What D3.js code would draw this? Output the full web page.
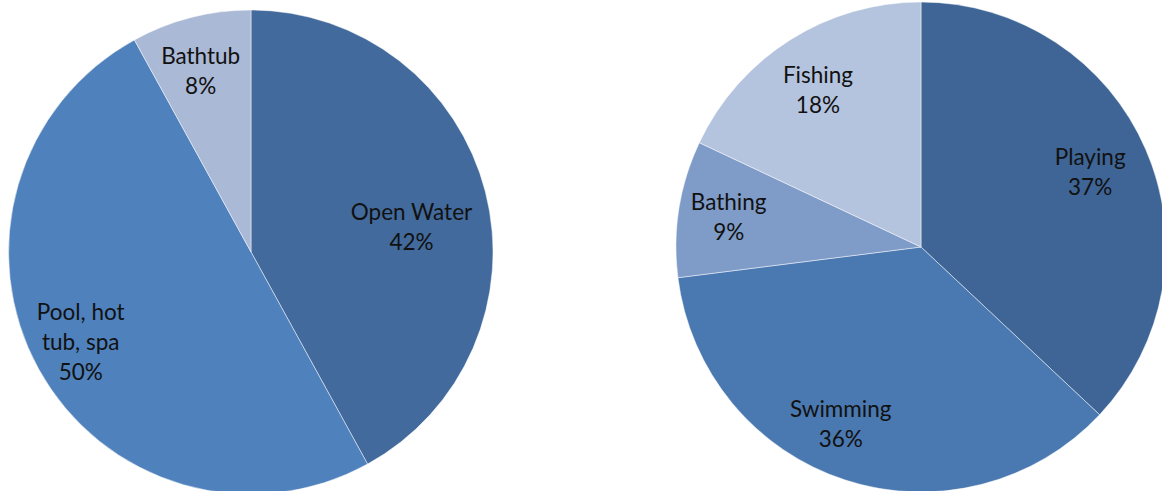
<!DOCTYPE html>
<html>
<head>
<meta charset="utf-8">
<script src="https://cdn.jsdelivr.net/npm/d3@7"></script>
<style>
  html, body { margin: 0; padding: 0; background: #fff; }
  svg { display: block; }
  text { font-family: Lato, "Open Sans", sans-serif; font-size: 22.5px; fill: #111; }
</style>
</head>
<body>
<svg id="chart" width="1162" height="491"></svg>
<script>
// Where drownings happen (left) and what people were doing (right), in percent
const placeLabels = [["Open Water"], ["Pool, hot", "tub, spa"], ["Bathtub"]];
const placeValues = [42, 50, 8];
const placeColors = ["#426a9c", "#4f81bc", "#aab9d6"];

const activityLabels = [["Playing"], ["Swimming"], ["Bathing"], ["Fishing"]];
const activityValues = [37, 36, 9, 18];
const activityColors = ["#3e6595", "#4a78b0", "#7f9bc8", "#b4c3de"];

const svg = d3.select("#chart");

function drawPie(cx, cy, radius, labels, values, colors, labelNudge) {
  const data = values.map((v, i) => ({ label: labels[i], value: v, color: colors[i], i }));
  const pie = d3.pie().value(d => d.value).sort(null);
  const arc = d3.arc().innerRadius(0).outerRadius(radius);
  const labelArc = d3.arc().innerRadius(radius * 0.77).outerRadius(radius * 0.77);

  const g = svg.append("g").attr("transform", `translate(${cx},${cy})`);
  const arcs = pie(data);

  g.selectAll("path").data(arcs).join("path")
    .attr("d", arc)
    .attr("fill", d => d.data.color)
    .attr("stroke", "#ffffff")
    .attr("stroke-opacity", 0.6)
    .attr("stroke-width", 0.8);

  const lineH = 30;
  const lbl = g.selectAll("text.lbl").data(arcs).join("text")
    .attr("class", "lbl")
    .attr("text-anchor", "middle")
    .attr("transform", d => {
      const [x, y] = labelArc.centroid(d);
      const n = labelNudge[d.data.i] || [0, 0];
      return `translate(${x + n[0]},${y + n[1]})`;
    });

  lbl.each(function(d) {
    const lines = d.data.label.concat([d.data.value + "%"]);
    const top = -(lines.length - 1) * lineH / 2;
    d3.select(this).selectAll("tspan").data(lines).join("tspan")
      .attr("x", 0)
      .attr("y", (s, k) => top + k * lineH)
      .attr("dy", "0.35em")
      .text(s => s);
  });
}

// Label nudges keep the wider labels inside their slices
drawPie(251, 252, 242, placeLabels, placeValues, placeColors, { 0: [-20, 21], 1: [-7, 0], 2: [-4, 0] });
drawPie(921, 247, 245, activityLabels, activityValues, activityColors, { 0: [-4, 0], 1: [-22, -2], 2: [-6, 0], 3: [-2, 2] });
</script>
</body>
</html>
